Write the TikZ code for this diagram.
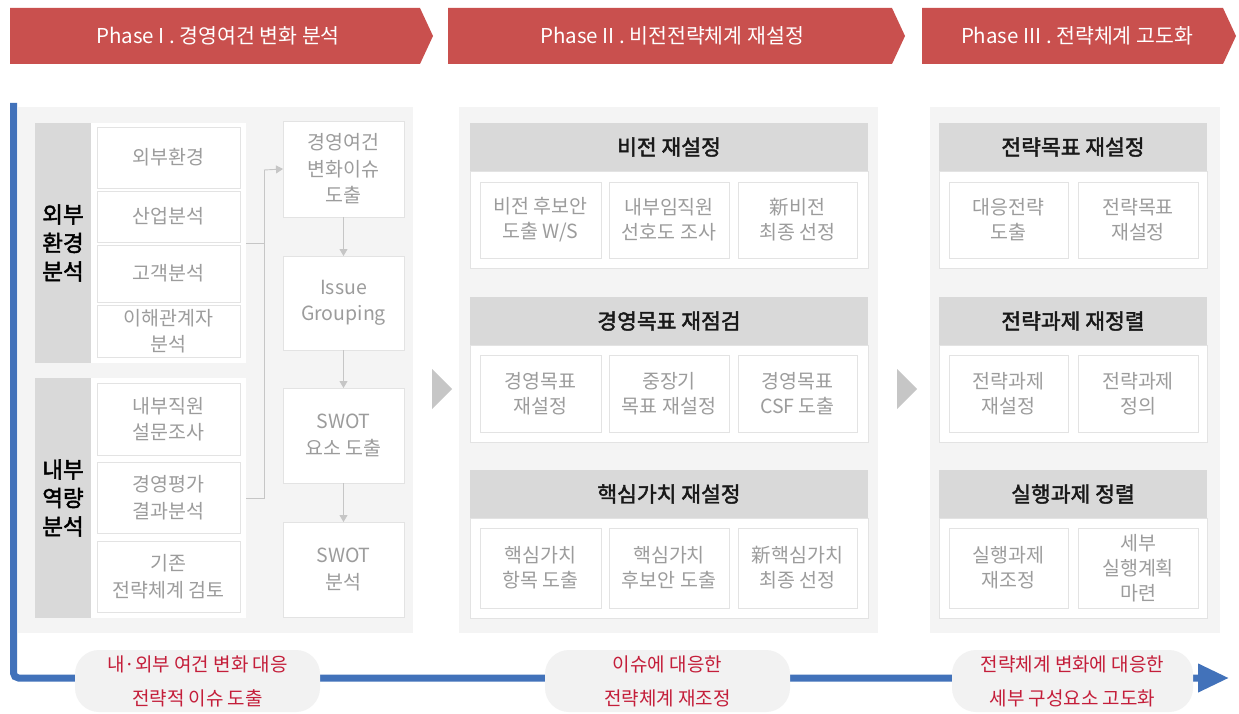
\documentclass[tikz,border=0pt]{standalone}
\usepackage{fontspec}
\setmainfont{Noto Sans CJK KR}[AutoFakeBold=2]
\usetikzlibrary{arrows.meta}
\definecolor{bannerred}{HTML}{C9504E}
\definecolor{panelbg}{HTML}{F4F4F4}
\definecolor{hdrgray}{HTML}{D9D9D9}
\definecolor{linegray}{HTML}{E3E3E3}
\definecolor{txtgray}{HTML}{9C9C9C}
\definecolor{arrgray}{HTML}{C6C6C6}
\definecolor{flowblue}{HTML}{4272BA}
\definecolor{notebg}{HTML}{F2F2F2}
\definecolor{notered}{HTML}{C41E3A}
\newcommand\mybox[7]{\node[#6, minimum width={#4-#2}, minimum height={#5-#3}] (#1) at ({(#2+#4)/2},{(#3+#5)/2}) {#7};}
\tikzset{
  every node/.style={inner sep=0pt, outer sep=0pt},
  panel/.style={fill=panelbg},
  banner/.style={fill=bannerred},
  bannertext/.style={text=white, font=\fontsize{20.5}{22}\selectfont},
  labelbox/.style={fill=hdrgray, text=black, align=center, font=\bfseries\fontsize{22.5}{28.5}\selectfont},
  whitecol/.style={fill=white},
  item/.style={fill=white, draw=linegray, line width=0.8pt, text=txtgray, align=center, font=\fontsize{19.5}{26.5}\selectfont},
  sub/.style={item, font=\fontsize{19.5}{25}\selectfont},
  body/.style={fill=white, draw=linegray, line width=0.6pt},
  hdr/.style={fill=hdrgray, text=black!90, font=\bfseries\fontsize{21.5}{22}\selectfont},
  gline/.style={draw=arrgray, line width=0.9pt},
  garrow/.style={gline, -{Triangle[length=7pt,width=8pt]}, arrgray},
  tri/.style={fill=arrgray},
  note/.style={fill=notebg, rounded corners=24pt, text=notered, align=center, font=\fontsize{19}{34}\selectfont},
  flow/.style={draw=flowblue, line width=7pt, rounded corners=5pt, -{Triangle[length=31pt,width=27pt]}}
}
\begin{document}
\begin{tikzpicture}[x=1pt,y=-1pt]
\useasboundingbox[fill=white] (0,0) rectangle (1239,714);

% banners
\fill[banner] (10,8) -- (420,8) -- (433,36) -- (420,64) -- (10,64) -- cycle;
\node[bannertext] (ph1) at (218,36) {Phase I . 경영여건 변화 분석};
\fill[banner] (448,8) -- (892,8) -- (905,36) -- (892,64) -- (448,64) -- cycle;
\node[bannertext] (ph2) at (672,36) {Phase II . 비전전략체계 재설정};
\fill[banner] (922,8) -- (1223,8) -- (1236,36) -- (1223,64) -- (922,64) -- cycle;
\node[bannertext] (ph3) at (1077,36) {Phase III . 전략체계 고도화};

% panels
\mybox{pan1}{18}{107}{413}{633}{panel}{}
\mybox{pan2}{459}{107}{878}{633}{panel}{}
\mybox{pan3}{930}{107}{1220}{633}{panel}{}

% triangles between panels
\fill[tri] (432,369) -- (452,389) -- (432,409) -- cycle;
\fill[tri] (897,369) -- (917,389) -- (897,409) -- cycle;

% Phase I left column
\mybox{extlab}{35}{123}{91}{363}{labelbox}{외부\\환경\\분석}
\mybox{extcol}{91}{123}{246}{363}{whitecol}{}
\mybox{e1}{97}{127}{240}{188}{item}{외부환경}
\mybox{e2}{97}{191}{240}{242}{item}{산업분석}
\mybox{e3}{97}{245}{240}{302}{item}{고객분석}
\mybox{e4}{97}{305}{240}{357}{item}{이해관계자\\분석}
\mybox{intlab}{35}{378}{91}{618}{labelbox}{내부\\역량\\분석}
\mybox{intcol}{91}{378}{246}{618}{whitecol}{}
\mybox{i1}{97}{383}{240}{455}{item}{내부직원\\설문조사}
\mybox{i2}{97}{462}{240}{533}{item}{경영평가\\결과분석}
\mybox{i3}{97}{541}{240}{612}{item}{기존\\전략체계 검토}

% Phase I right column
\mybox{b1}{283}{121}{404}{217}{item}{경영여건\\변화이슈\\도출}
\mybox{b2}{283}{256}{404}{350}{item}{Issue\\Grouping}
\mybox{b3}{283}{388}{404}{483}{item}{SWOT\\요소 도출}
\mybox{b4}{283}{522}{404}{617}{item}{SWOT\\분석}

\coordinate (j) at (264,170);
\draw[gline] (extcol.east) -| (j);
\draw[gline] (intcol.east) -| (j);
\draw[garrow] (j) -- (b1.west);
\draw[garrow] (b1.south) -- (b2.north);
\draw[garrow] (b2.south) -- (b3.north);
\draw[garrow] (b3.south) -- (b4.north);

% Phase II
\mybox{v}{470}{123}{868}{171}{hdr}{비전 재설정}
\mybox{vb}{470}{171}{868}{268}{body}{}
\mybox{v1}{480}{182}{601}{258}{sub}{비전 후보안\\도출 W/S}
\mybox{v2}{609}{182}{729}{258}{sub}{내부임직원\\선호도 조사}
\mybox{v3}{738}{182}{857}{258}{sub}{新비전\\최종 선정}
\mybox{m}{470}{297}{868}{345}{hdr}{경영목표 재점검}
\mybox{mb}{470}{345}{868}{442}{body}{}
\mybox{m1}{480}{355}{601}{432}{sub}{경영목표\\재설정}
\mybox{m2}{609}{355}{729}{432}{sub}{중장기\\목표 재설정}
\mybox{m3}{738}{355}{857}{432}{sub}{경영목표\\CSF 도출}
\mybox{c}{470}{470}{868}{518}{hdr}{핵심가치 재설정}
\mybox{cb}{470}{518}{868}{618}{body}{}
\mybox{c1}{480}{528}{601}{608}{sub}{핵심가치\\항목 도출}
\mybox{c2}{609}{528}{729}{608}{sub}{핵심가치\\후보안 도출}
\mybox{c3}{738}{528}{857}{608}{sub}{新핵심가치\\최종 선정}

% Phase III
\mybox{s}{939}{123}{1207}{171}{hdr}{전략목표 재설정}
\mybox{sb}{939}{171}{1207}{268}{body}{}
\mybox{s1}{949}{182}{1068}{258}{sub}{대응전략\\도출}
\mybox{s2}{1078}{182}{1198}{258}{sub}{전략목표\\재설정}
\mybox{t}{939}{297}{1207}{345}{hdr}{전략과제 재정렬}
\mybox{tb}{939}{345}{1207}{442}{body}{}
\mybox{t1}{949}{355}{1068}{432}{sub}{전략과제\\재설정}
\mybox{t2}{1078}{355}{1198}{432}{sub}{전략과제\\정의}
\mybox{x}{939}{470}{1207}{518}{hdr}{실행과제 정렬}
\mybox{xb}{939}{518}{1207}{618}{body}{}
\mybox{x1}{949}{528}{1068}{608}{sub}{실행과제\\재조정}
\mybox{x2}{1078}{528}{1198}{608}{sub}{세부\\실행계획\\마련}

% blue flow line
\coordinate (fstart) at (13.5,103);
\coordinate (fend) at (1229,678);
\draw[flow] (fstart) |- (fend);

% notes
\mybox{n1}{75}{650}{320}{712}{note}{내·외부 여건 변화 대응\\전략적 이슈 도출}
\mybox{n2}{545}{650}{790}{712}{note}{이슈에 대응한\\전략체계 재조정}
\mybox{n3}{952}{650}{1193}{712}{note}{전략체계 변화에 대응한\\세부 구성요소 고도화}
\end{tikzpicture}
\end{document}
